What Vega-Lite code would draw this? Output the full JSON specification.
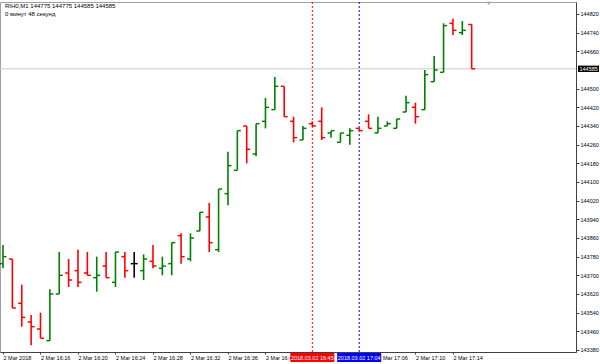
{
  "$schema": "https://vega.github.io/schema/vega-lite/v6.json",
  "width": 576,
  "height": 350,
  "autosize": {"type": "none"},
  "padding": {"left": 0, "top": 2, "right": 24, "bottom": 12},
  "background": "#ffffff",
  "config": {
    "view": {"stroke": "#a0a0a0", "strokeWidth": 1},
    "font": "Liberation Sans",
    "axis": {"labelOverlap": false, "labelFlush": false, "grid": false}
  },
  "title": {
    "text": ["RIH0,M1  144775 144775 144585 144585", "0 минут 48 секунд"],
    "anchor": "start",
    "frame": "group",
    "orient": "top",
    "baseline": "top",
    "offset": -15,
    "dx": 5,
    "fontSize": 6,
    "lineHeight": 8,
    "fontWeight": "normal",
    "font": "Liberation Sans",
    "color": "#000000"
  },
  "datasets": {
    "bars": [
      {"i":0,"t":"16:12","o":143750,"h":143830,"l":143730,"c":143780},
      {"i":1,"t":"16:13","o":143770,"h":143770,"l":143560,"c":143560},
      {"i":2,"t":"16:14","o":143580,"h":143660,"l":143480,"c":143520},
      {"i":3,"t":"16:15","o":143500,"h":143530,"l":143400,"c":143480},
      {"i":4,"t":"16:16","o":143470,"h":143540,"l":143430,"c":143430},
      {"i":5,"t":"16:17","o":143420,"h":143640,"l":143420,"c":143620},
      {"i":6,"t":"16:18","o":143620,"h":143800,"l":143620,"c":143700},
      {"i":7,"t":"16:19","o":143710,"h":143770,"l":143650,"c":143680},
      {"i":8,"t":"16:20","o":143720,"h":143810,"l":143650,"c":143670},
      {"i":9,"t":"16:21","o":143710,"h":143800,"l":143700,"c":143700},
      {"i":10,"t":"16:22","o":143690,"h":143780,"l":143630,"c":143700},
      {"i":11,"t":"16:23","o":143740,"h":143800,"l":143690,"c":143690},
      {"i":12,"t":"16:24","o":143670,"h":143800,"l":143650,"c":143800},
      {"i":13,"t":"16:25","o":143780,"h":143800,"l":143690,"c":143720},
      {"i":14,"t":"16:26","o":143750,"h":143800,"l":143690,"c":143750},
      {"i":15,"t":"16:27","o":143720,"h":143790,"l":143680,"c":143770},
      {"i":16,"t":"16:28","o":143760,"h":143830,"l":143730,"c":143740},
      {"i":17,"t":"16:29","o":143730,"h":143780,"l":143700,"c":143740},
      {"i":18,"t":"16:30","o":143750,"h":143840,"l":143700,"c":143840},
      {"i":19,"t":"16:31","o":143870,"h":143880,"l":143750,"c":143780},
      {"i":20,"t":"16:32","o":143770,"h":143880,"l":143760,"c":143860},
      {"i":21,"t":"16:33","o":143890,"h":143970,"l":143890,"c":143970},
      {"i":22,"t":"16:34","o":143950,"h":144010,"l":143800,"c":143840},
      {"i":23,"t":"16:35","o":143810,"h":144070,"l":143800,"c":144070},
      {"i":24,"t":"16:36","o":144050,"h":144230,"l":144000,"c":144170},
      {"i":25,"t":"16:37","o":144150,"h":144320,"l":144150,"c":144320},
      {"i":26,"t":"16:38","o":144340,"h":144340,"l":144180,"c":144240},
      {"i":27,"t":"16:39","o":144220,"h":144350,"l":144210,"c":144350},
      {"i":28,"t":"16:40","o":144360,"h":144460,"l":144330,"c":144420},
      {"i":29,"t":"16:41","o":144410,"h":144550,"l":144410,"c":144510},
      {"i":30,"t":"16:42","o":144510,"h":144510,"l":144380,"c":144380},
      {"i":31,"t":"16:43","o":144360,"h":144380,"l":144270,"c":144290},
      {"i":32,"t":"16:44","o":144280,"h":144340,"l":144280,"c":144330},
      {"i":33,"t":"16:45","o":144350,"h":144360,"l":144340,"c":144340},
      {"i":34,"t":"17:00","o":144360,"h":144420,"l":144280,"c":144290},
      {"i":35,"t":"17:01","o":144310,"h":144320,"l":144290,"c":144320},
      {"i":36,"t":"17:02","o":144270,"h":144310,"l":144270,"c":144310},
      {"i":37,"t":"17:03","o":144300,"h":144330,"l":144260,"c":144320},
      {"i":38,"t":"17:04","o":144330,"h":144330,"l":144320,"c":144320},
      {"i":39,"t":"17:05","o":144360,"h":144390,"l":144330,"c":144330},
      {"i":40,"t":"17:06","o":144310,"h":144380,"l":144310,"c":144330},
      {"i":41,"t":"17:07","o":144340,"h":144360,"l":144340,"c":144350},
      {"i":42,"t":"17:08","o":144330,"h":144370,"l":144330,"c":144370},
      {"i":43,"t":"17:09","o":144400,"h":144470,"l":144400,"c":144440},
      {"i":44,"t":"17:10","o":144420,"h":144440,"l":144350,"c":144380},
      {"i":45,"t":"17:11","o":144410,"h":144580,"l":144410,"c":144560},
      {"i":46,"t":"17:12","o":144530,"h":144640,"l":144530,"c":144580},
      {"i":47,"t":"17:13","o":144570,"h":144780,"l":144570,"c":144770},
      {"i":48,"t":"17:14","o":144780,"h":144800,"l":144730,"c":144750},
      {"i":49,"t":"17:15","o":144740,"h":144790,"l":144730,"c":144750},
      {"i":50,"t":"17:16","o":144775,"h":144775,"l":144585,"c":144585}
    ],
    "vlines": [
      {"i":33,"name":"red","label":"2018.03.02 16:45"},
      {"i":38,"name":"blue","label":"2018.03.02 17:04"}
    ],
    "current": [{"p":144585,"label":"144585"}],
    "shift": [{"i":51.8,"p":144866}]
  },
  "layer": [
    {
      "data": {"name": "current"},
      "mark": {"type": "rule", "color": "#c8c8c8", "strokeWidth": 1},
      "encoding": {
        "y": {"field": "p", "type": "quantitative",
          "scale": {"domain": [143371.4, 144871.4], "nice": false, "zero": false},
          "axis": {
            "orient": "right",
            "title": null,
            "values": [143380,143460,143540,143620,143700,143780,143860,143940,144020,144100,144180,144260,144340,144420,144500,144660,144740,144820],
            "tickCount": 40,
            "format": "d",
            "domainColor": "#404040",
            "tickColor": "#404040",
            "tickSize": 3,
            "labelPadding": 1,
            "labelFontSize": 5.5,
            "labelFont": "Liberation Sans",
            "labelColor": "#000000",
            "labelAlign": "left",
            "labelBaseline": "middle",
            "labelOverlap": false
          }
        }
      }
    },
    {
      "data": {"name": "vlines"},
      "mark": {"type": "rule", "strokeWidth": 1, "strokeDash": [2, 2]},
      "encoding": {
        "x": {"field": "i", "type": "quantitative",
          "scale": {"domain": [-0.32, 61.13], "nice": false, "zero": false},
          "axis": {
            "orient": "bottom",
            "title": null,
            "values": [0,4,8,12,16,20,24,28,40,44,48],
            "tickCount": 40,
            "labelExpr": "['2 Mar 2018','2 Mar 16:16','2 Mar 16:20','2 Mar 16:24','2 Mar 16:28','2 Mar 16:32','2 Mar 16:36','2 Mar 16:40','2 Mar 16:44','2 Mar 17:02','2 Mar 17:06','2 Mar 17:10','2 Mar 17:14'][datum.value/4]",
            "domainColor": "#404040",
            "tickColor": "#404040",
            "tickSize": 2,
            "labelPadding": 1,
            "labelFontSize": 5.5,
            "labelFont": "Liberation Sans",
            "labelColor": "#000000",
            "labelAlign": "left",
            "labelBaseline": "top",
            "labelOverlap": false
          }
        },
        "color": {"field": "name", "type": "nominal",
          "scale": {"domain": ["red", "blue"], "range": ["#ff0000", "#0000ff"]},
          "legend": null}
      }
    },
    {
      "data": {"name": "bars"},
      "mark": {"type": "rule", "strokeWidth": 1.6},
      "encoding": {
        "x": {"field": "i", "type": "quantitative"},
        "y": {"field": "l", "type": "quantitative"},
        "y2": {"field": "h"},
        "color": {"condition": [
          {"test": "datum.c > datum.o", "value": "#008000"},
          {"test": "datum.c < datum.o", "value": "#ff0000"}
        ], "value": "#000000"}
      }
    },
    {
      "data": {"name": "bars"},
      "mark": {"type": "rule", "strokeWidth": 1.5, "xOffset": -3.5, "x2Offset": 0},
      "encoding": {
        "x": {"field": "i", "type": "quantitative"},
        "x2": {"field": "i"},
        "y": {"field": "o", "type": "quantitative"},
        "color": {"condition": [
          {"test": "datum.c > datum.o", "value": "#008000"},
          {"test": "datum.c < datum.o", "value": "#ff0000"}
        ], "value": "#000000"}
      }
    },
    {
      "data": {"name": "bars"},
      "mark": {"type": "rule", "strokeWidth": 1.5, "xOffset": 0, "x2Offset": 3.5},
      "encoding": {
        "x": {"field": "i", "type": "quantitative"},
        "x2": {"field": "i"},
        "y": {"field": "c", "type": "quantitative"},
        "color": {"condition": [
          {"test": "datum.c > datum.o", "value": "#008000"},
          {"test": "datum.c < datum.o", "value": "#ff0000"}
        ], "value": "#000000"}
      }
    },
    {
      "data": {"name": "vlines"},
      "mark": {"type": "rect", "xOffset": -22, "x2Offset": 22, "yOffset": 1, "y2Offset": 10},
      "encoding": {
        "x": {"field": "i", "type": "quantitative"},
        "x2": {"field": "i"},
        "y": {"value": "height"},
        "y2": {"value": "height"},
        "color": {"field": "name", "type": "nominal", "legend": null}
      }
    },
    {
      "data": {"name": "vlines"},
      "mark": {"type": "text", "fontSize": 5.5, "font": "Liberation Sans", "color": "#ffffff", "align": "center", "baseline": "middle", "dy": 5.5},
      "encoding": {
        "x": {"field": "i", "type": "quantitative"},
        "y": {"value": "height"},
        "text": {"field": "label"}
      }
    },
    {
      "data": {"name": "current"},
      "mark": {"type": "rect", "color": "#000000", "xOffset": 2, "x2Offset": 23, "yOffset": -3.2, "y2Offset": 3.2},
      "encoding": {
        "x": {"value": "width"},
        "x2": {"value": "width"},
        "y": {"field": "p", "type": "quantitative"},
        "y2": {"field": "p"}
      }
    },
    {
      "data": {"name": "current"},
      "mark": {"type": "text", "fontSize": 5.5, "font": "Liberation Sans", "color": "#ffffff", "align": "left", "baseline": "middle", "dx": 3.5},
      "encoding": {
        "x": {"value": "width"},
        "y": {"field": "p", "type": "quantitative"},
        "text": {"field": "label"}
      }
    },
    {
      "data": {"name": "shift"},
      "mark": {"type": "point", "shape": "triangle-down", "filled": true, "color": "#a0a0a0", "size": 14, "opacity": 1},
      "encoding": {
        "x": {"field": "i", "type": "quantitative"},
        "y": {"field": "p", "type": "quantitative"}
      }
    }
  ]
}
